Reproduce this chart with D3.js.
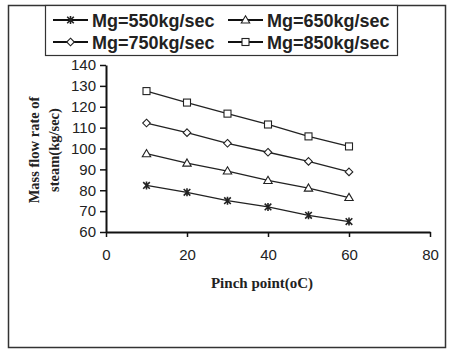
<!DOCTYPE html>
<html>
<head>
<meta charset="UTF-8">
<script src="https://d3js.org/d3.v7.min.js"></script>
<style>
  body { margin: 0; background: #fff; }
</style>
</head>
<body>
<svg id="canvas"></svg>
<script>
width = 452;
height = 353;

pinch = [10, 20, 30, 40, 50, 60];
mg550 = [82.3, 79, 75, 72, 68, 65];
mg650 = [97.5, 93, 89.2, 84.7, 81, 76.5];
mg750 = [112.2, 107.6, 102.5, 98.2, 93.8, 88.8];
mg850 = [127.5, 122, 116.7, 111.5, 105.8, 101];
seriesNames = ["Mg=550kg/sec", "Mg=650kg/sec", "Mg=750kg/sec", "Mg=850kg/sec"];
xTicks = [0, 20, 40, 60, 80];
yTicks = [60, 70, 80, 90, 100, 110, 120, 130, 140];

series = [
  {name: seriesNames[0], values: mg550, marker: "star"},
  {name: seriesNames[1], values: mg650, marker: "triangle"},
  {name: seriesNames[2], values: mg750, marker: "diamond"},
  {name: seriesNames[3], values: mg850, marker: "square"}
];

canvas = d3.select("#canvas").attr("width", width).attr("height", height);

// outer frame
canvas.append("rect")
  .attr("x", 8.5).attr("y", 5.5).attr("width", 437).attr("height", 342)
  .attr("fill", "none").attr("stroke", "#333").attr("stroke-width", 1.5);

x = d3.scaleLinear().domain([0, 80]).range([106, 430]);
y = d3.scaleLinear().domain([60, 140]).range([232, 65]);

function marker(g, type, cx, cy) {
  if (type == "square") {
    g.append("rect").attr("x", cx - 3.5).attr("y", cy - 3.5).attr("width", 7).attr("height", 7)
      .attr("fill", "#fff").attr("stroke", "#222").attr("stroke-width", 1.1);
  } else if (type == "diamond") {
    g.append("path").attr("d", `M${cx},${cy-3.8}L${cx+3.8},${cy}L${cx},${cy+3.8}L${cx-3.8},${cy}Z`)
      .attr("fill", "#fff").attr("stroke", "#222").attr("stroke-width", 1.1);
  } else if (type == "triangle") {
    g.append("path").attr("d", `M${cx},${cy-4.2}L${cx+4.2},${cy+3}L${cx-4.2},${cy+3}Z`)
      .attr("fill", "#fff").attr("stroke", "#222").attr("stroke-width", 1.1);
  } else {
    g.append("path").attr("d", `M${cx-3.3},${cy-3.3}L${cx+3.3},${cy+3.3}M${cx+3.3},${cy-3.3}L${cx-3.3},${cy+3.3}M${cx},${cy-4}L${cx},${cy+4}`)
      .attr("fill", "none").attr("stroke", "#222").attr("stroke-width", 1.6);
  }
}

line = d3.line().x((d, i) => x(pinch[i])).y(d => y(d));

series.forEach(s => {
  canvas.append("path").attr("d", line(s.values))
    .attr("fill", "none").attr("stroke", "#222").attr("stroke-width", 1.3);
  g = canvas.append("g");
  s.values.forEach((v, i) => marker(g, s.marker, x(pinch[i]), y(v)));
});

// axes
xAxis = canvas.append("g").attr("transform", "translate(0,232)")
  .call(d3.axisBottom(x).tickValues(xTicks).tickSize(5).tickSizeOuter(0).tickPadding(12));
yAxis = canvas.append("g").attr("transform", "translate(106,0)")
  .call(d3.axisLeft(y).tickValues(yTicks).tickSize(6).tickSizeOuter(0).tickPadding(4));
[xAxis, yAxis].forEach(a => {
  a.select(".domain").attr("stroke", "#111").attr("stroke-width", 2);
  a.selectAll(".tick line").attr("stroke", "#111").attr("stroke-width", 1.5);
  a.selectAll("text").attr("font-family", "Liberation Sans, Arial, sans-serif")
    .attr("font-size", 15).attr("fill", "#222");
});

// axis titles
canvas.append("text").attr("x", 262).attr("y", 288).attr("text-anchor", "middle")
  .attr("font-family", "Liberation Serif, Times New Roman, serif").attr("font-weight", "bold")
  .attr("font-size", 15).attr("fill", "#222").text("Pinch point(oC)");
yt = canvas.append("text").attr("transform", "translate(0,150) rotate(-90)")
  .attr("text-anchor", "middle")
  .attr("font-family", "Liberation Serif, Times New Roman, serif").attr("font-weight", "bold")
  .attr("font-size", 14.5).attr("fill", "#222");
yt.append("tspan").attr("x", 0).attr("y", 39).text("Mass flow rate of");
yt.append("tspan").attr("x", 0).attr("y", 59).text("steam(kg/sec)");

// legend
canvas.append("rect").attr("x", 45.5).attr("y", 5.5).attr("width", 352).attr("height", 50)
  .attr("fill", "#fff").attr("stroke", "#333").attr("stroke-width", 1.2);
legend = canvas.selectAll(".leg").data(series).enter().append("g")
  .attr("transform", (d, i) => `translate(${i % 2 == 0 ? 53 : 228},${i < 2 ? 20 : 42})`);
legend.append("line").attr("x1", 0).attr("x2", 35).attr("y1", 0).attr("y2", 0)
  .attr("stroke", "#111").attr("stroke-width", 2);
legend.each(function(d) { marker(d3.select(this), d.marker, 17.5, 0); });
legend.append("text").attr("x", 39).attr("y", 6.5)
  .attr("font-family", "Liberation Sans, Arial, sans-serif").attr("font-weight", "bold")
  .attr("font-size", 18).attr("fill", "#222").text(d => d.name);
</script>
</body>
</html>
